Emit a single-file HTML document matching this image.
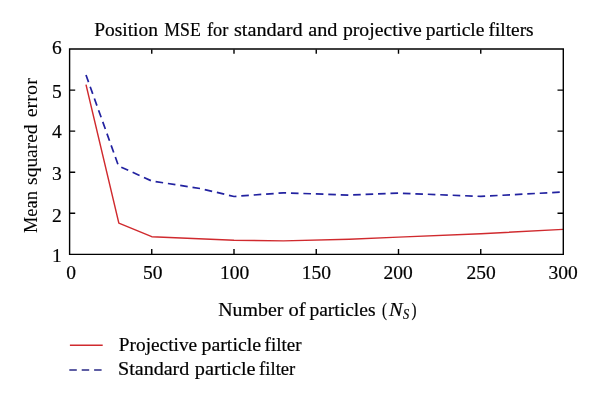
<!DOCTYPE html>
<html><head><meta charset="utf-8"><style>html,body{margin:0;padding:0;background:#fff;width:600px;height:403px;overflow:hidden}svg{display:block}</style></head>
<body><svg width="600" height="403" viewBox="0 0 600 403"><rect width="600" height="403" fill="#fff"/><polyline points="86.00,84.70 118.85,223.10 151.75,236.70 234.00,240.20 283.40,240.90 349.30,239.30 398.50,237.10 480.80,233.80 563.00,229.40" fill="none" stroke="#d02a2e" stroke-width="1.45" stroke-linejoin="round"/><polyline points="86.00,75.00 118.50,165.90 151.75,181.00 201.10,188.70 234.00,196.50 283.40,192.80 349.30,195.10 398.50,193.10 480.80,196.40 563.00,192.00" fill="none" stroke="#2222a0" stroke-width="1.7" stroke-dasharray="7.6 4.85"/><path d="M68.9,48.15H564V49.85H68.9ZM68.9,253.7H564V255.1H68.9ZM68.9,48.15H70.3V255.1H68.9ZM562.6,48.15H564V255.1H562.6Z" fill="#000"/><path d="M151.75,254v-5.1M151.75,49.5v4.2M234.00,254v-5.1M234.00,49.5v4.2M316.25,254v-5.1M316.25,49.5v4.2M398.50,254v-5.1M398.50,49.5v4.2M480.75,254v-5.1M480.75,49.5v4.2M70,213.32h5.2M563,213.32h-5.5M70,172.24h5.2M563,172.24h-5.5M70,131.16h5.2M563,131.16h-5.5M70,90.08h5.2M563,90.08h-5.5" stroke="#000" stroke-width="1.4" fill="none"/><g font-family='"Liberation Serif", serif' font-size="19.5" fill="#000" stroke="#000" stroke-width="0.2" style="will-change:transform"><text x="71.0" y="278.9" text-anchor="middle">0</text><text x="152.8" y="278.9" text-anchor="middle">50</text><text x="234.5" y="278.9" text-anchor="middle">100</text><text x="316.4" y="278.9" text-anchor="middle">150</text><text x="398.0" y="278.9" text-anchor="middle">200</text><text x="481.1" y="278.9" text-anchor="middle">250</text><text x="563.0" y="278.9" text-anchor="middle">300</text><text x="61.7" y="261.8" text-anchor="end">1</text><text x="61.7" y="222.3" text-anchor="end">2</text><text x="61.7" y="180.0" text-anchor="end">3</text><text x="61.7" y="137.5" text-anchor="end">4</text><text x="61.7" y="98.0" text-anchor="end">5</text><text x="61.7" y="53.9" text-anchor="end">6</text><text transform="translate(94.18,36.0) scale(1.0499,1)" font-size="18.52">Position</text><text transform="translate(164.32,36.0) scale(0.9566,1)" font-size="18.52">MSE</text><text transform="translate(207.00,36.0) scale(0.9905,1)" font-size="18.52">for</text><text transform="translate(233.93,36.0) scale(1.0953,1)" font-size="18.52">standard</text><text transform="translate(308.24,36.0) scale(1.0923,1)" font-size="18.52">and</text><text transform="translate(342.89,36.0) scale(1.0655,1)" font-size="18.52">projective</text><text transform="translate(425.79,36.0) scale(1.0584,1)" font-size="18.52">particle</text><text transform="translate(488.48,36.0) scale(1.0451,1)" font-size="18.52">filters</text><text transform="translate(218.28,315.5) scale(1.0573,1)" font-size="18.8">Number</text><text transform="translate(288.54,315.5) scale(1.0921,1)" font-size="18.8">of</text><text transform="translate(309.39,315.5) scale(1.0397,1)" font-size="18.8">particles</text><text transform="translate(381.95,315.5) scale(0.7843,1)" font-size="18.8">(</text><text transform="translate(388.92,315.5) scale(1.0876,1)" font-size="18.8" font-style="italic">N</text><text transform="translate(403.11,318.5) scale(0.8824,1)" font-size="14" font-style="italic">S</text><text transform="translate(411.60,315.5) scale(0.8000,1)" font-size="18.8">)</text><text transform="translate(118.78,350.9) scale(1.0559,1)" font-size="18.33">Projective</text><text transform="translate(201.48,350.9) scale(1.0849,1)" font-size="18.33">particle</text><text transform="translate(264.58,350.9) scale(1.0370,1)" font-size="18.33">filter</text><text transform="translate(117.99,375.2) scale(1.0955,1)" font-size="18.33">Standard</text><text transform="translate(194.78,375.2) scale(1.1070,1)" font-size="18.33">particle</text><text transform="translate(259.09,375.2) scale(1.0171,1)" font-size="18.33">filter</text><text transform="translate(36.6,233.09) rotate(-90) scale(0.9834,1)" font-size="18.75" stroke-width="0.05">Mean</text><text transform="translate(36.6,184.93) rotate(-90) scale(1.0383,1)" font-size="18.75" stroke-width="0.05">squared</text><text transform="translate(36.6,117.35) rotate(-90) scale(1.0782,1)" font-size="18.75" stroke-width="0.05">error</text></g><line x1="69.9" y1="345.2" x2="102.7" y2="345.2" stroke="#d02a2e" stroke-width="1.5"/><line x1="69.3" y1="370" x2="101.9" y2="370" stroke="#2a2a86" stroke-width="1.6" stroke-dasharray="7.5 4.9"/></svg></body></html>
